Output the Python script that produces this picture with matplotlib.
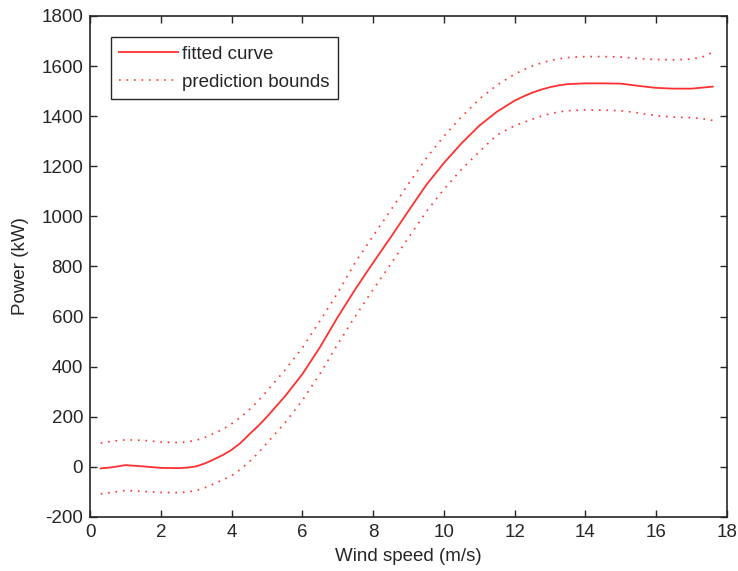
import matplotlib
matplotlib.use("Agg")
from matplotlib import pyplot as plt

plt.rcParams["font.family"] = ["Liberation Sans", "DejaVu Sans"]
plt.rcParams["axes.unicode_minus"] = False

# wind speed (m/s) and power (kW)
wind = [0.3, 0.6, 1.0, 1.5, 2.0, 2.5, 2.75, 3.0, 3.25, 3.5, 3.75, 4.0, 4.25,
        4.5, 4.75, 5.0, 5.5, 6.0, 6.5, 7.0, 7.5, 8.0, 8.5, 9.0, 9.5, 10.0,
        10.5, 11.0, 11.5, 12.0, 12.25, 12.5, 12.75, 13.0, 13.25, 13.5, 14.0,
        14.5, 15.0, 15.5, 16.0, 16.5, 17.0, 17.3, 17.6]
fitted = [-6, -2, 7, 2, -4, -5, -3, 2, 14, 30, 47, 68, 95,
          130, 163, 200, 280, 370, 478, 598, 710, 815, 917, 1022, 1125, 1213,
          1292, 1362, 1418, 1462, 1479, 1494, 1506, 1516, 1523, 1528, 1531,
          1531, 1530, 1521, 1513, 1510, 1510, 1514, 1518]
upper = [95, 102, 108, 106, 99, 97, 100, 106, 118, 133, 150, 172, 198,
         228, 263, 303, 385, 475, 583, 695, 817, 922, 1025, 1130, 1232, 1320,
         1398, 1468, 1524, 1568, 1585, 1600, 1612, 1622, 1629, 1634, 1638,
         1638, 1636, 1630, 1626, 1625, 1628, 1636, 1655]
lower = [-108, -102, -94, -98, -102, -103, -100, -95, -83, -68, -52, -35, -10,
         20, 55, 95, 175, 265, 372, 490, 602, 708, 810, 915, 1018, 1108,
         1188, 1258, 1325, 1362, 1375, 1388, 1400, 1410, 1417, 1422, 1425,
         1424, 1422, 1413, 1402, 1396, 1394, 1390, 1383]

red = "#ff3030"
ink = "#262626"
fs = 13.5

fig = plt.figure(figsize=(7.38, 5.71), dpi=100)
ax = fig.add_axes([0.122, 0.0946, 0.863, 0.8774])

ax.plot(wind, fitted, color=red, lw=1.3, label="fitted curve")
ax.plot(wind, upper, color=red, lw=1.2, linestyle=(0, (1, 3.5)), label="prediction bounds")
ax.plot(wind, lower, color=red, lw=1.2, linestyle=(0, (1, 3.5)))

ax.set(xlim=(0, 18), ylim=(-200, 1800))
ax.set_xticks(range(0, 19, 2))
ax.set_yticks(range(-200, 1801, 200))
ax.tick_params(direction="in", top=True, right=True, length=5, width=1,
               labelsize=fs, colors=ink, pad=5)
for s in ax.spines.values():
    s.set_color(ink)
    s.set_linewidth(1.2)

ax.set_xlabel("Wind speed (m/s)", fontsize=fs, color=ink, labelpad=5)
ax.set_ylabel("Power (kW)", fontsize=fs, color=ink, labelpad=9)

leg = ax.legend(loc="upper left", bbox_to_anchor=(0.033, 0.958), fontsize=fs,
                fancybox=False, framealpha=1, edgecolor=ink,
                handlelength=3.1, handletextpad=0.25, borderpad=0.45,
                labelspacing=0.6, borderaxespad=0)
leg.get_frame().set_linewidth(1.0)
for t in leg.get_texts():
    t.set_color(ink)

fig.savefig("out.png", dpi=100)
